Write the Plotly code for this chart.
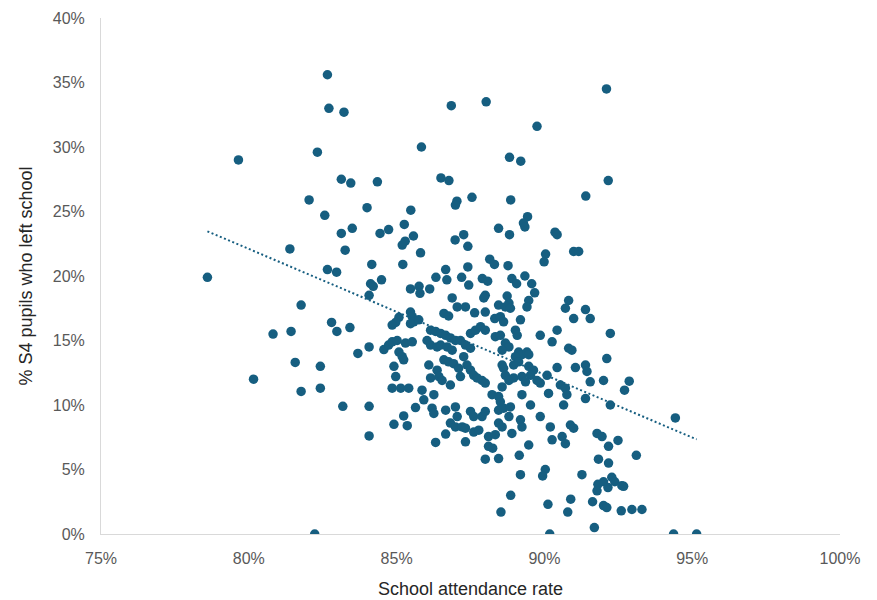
import numpy as np
import plotly.graph_objects as go

# School attendance rate (%) and share of S4 pupils who left school (%), one pair per school
attendance = [
    82.66, 82.71, 83.22, 82.32, 79.65, 83.13, 83.45, 84.35, 82.04, 84.0, 82.57, 83.13, 83.5, 84.44, 84.73,
    81.39, 83.26, 82.66, 82.97, 84.16, 84.49, 84.12, 84.21, 84.07, 78.6,
    81.77, 80.82, 81.43, 82.8, 82.98, 83.42, 84.07, 83.69, 84.57, 84.73, 81.57, 82.42, 80.16, 81.77, 82.42,
    83.18, 84.07, 84.07, 82.23,
    86.85, 88.03, 89.75, 85.84, 88.82, 89.2, 86.5, 86.77, 87.55, 87.04, 86.99, 88.86, 85.48, 85.26, 85.57,
    85.29, 85.19, 85.81, 85.21, 88.45, 88.82, 89.43, 89.29, 89.34, 90.36, 90.43, 87.27, 86.98, 87.41, 90.04,
    89.99, 87.41, 88.15, 88.31, 88.77, 89.34, 86.66, 86.7, 86.33, 87.2, 87.44, 87.9, 88.08, 88.9, 89.06,
    89.57, 85.47, 85.76, 86.12,
    92.1, 92.16, 91.4, 90.99, 91.16,
    85.79, 88.0, 87.95, 86.88, 87.05, 87.33, 86.6, 86.76, 87.64, 88.0, 88.32, 88.51, 88.62, 85.08, 84.97,
    84.85, 85.47, 85.53, 85.58, 85.47, 85.75, 86.15, 86.32, 86.49, 86.66, 86.82, 86.99, 86.03, 86.15, 86.37,
    86.49, 86.71, 86.88, 87.16, 87.33, 87.5, 87.5, 87.67, 87.84, 88.0, 88.34, 88.51, 84.85, 85.02, 85.3,
    85.53, 85.08, 85.19, 85.24, 84.91, 84.97, 86.09, 86.37, 86.6, 86.76, 86.93, 87.27, 87.38, 87.5, 87.61,
    87.72, 87.1, 87.16, 86.43, 86.54, 86.15, 86.82, 87.89, 88.0, 84.85, 85.14, 85.41, 85.86, 85.92, 86.26,
    85.64, 86.2, 86.26, 86.66, 86.99, 87.05, 87.5, 87.61, 87.89, 88.0, 84.91, 85.24, 85.36, 86.82, 86.99,
    87.22, 87.33, 86.66, 87.61, 87.78, 87.33, 86.32, 88.11, 88.34, 88.45, 88.57, 88.23, 88.45, 88.51, 88.45,
    88.62,
    89.67, 88.74, 89.47, 89.41, 88.45, 88.68, 88.8, 88.85, 89.19, 89.02, 89.08, 88.68, 88.8, 88.57, 89.13,
    89.24, 89.41, 89.47, 89.02, 89.13, 88.96, 88.57, 88.62, 89.47, 89.63, 89.53, 88.68, 88.8, 88.96, 89.24,
    89.36, 89.75, 89.86, 90.09, 88.57, 89.24, 88.85, 89.53, 88.8, 89.19, 89.24, 88.9, 89.47, 89.86, 90.2,
    90.26, 90.6, 90.71, 90.88, 90.99, 90.65, 90.14, 90.54, 90.71, 90.76, 90.43, 91.05, 91.39, 91.44, 91.55,
    92.0, 91.39, 92.23, 92.11, 92.23, 90.82, 90.93, 90.43, 90.26, 89.86, 90.82, 90.71, 90.99, 91.39, 91.55,
    91.78, 91.95, 92.17,
    88.11, 88.25, 88.0, 88.45, 89.15, 89.19, 90.03, 89.94, 88.86, 88.53, 90.12, 90.89, 90.79, 90.18, 91.27,
    91.83, 92.17, 91.81, 92.0, 91.78, 92.15, 92.28, 92.38, 92.62, 91.63, 92.0, 92.11, 92.6, 91.69,
    92.87, 92.71, 94.43, 92.49, 93.11, 92.68, 92.96, 93.3, 94.37, 95.15,
]
left_school = [
    35.6, 33.0, 32.7, 29.6, 29.0, 27.5, 27.2, 27.3, 25.9, 25.3, 24.7, 23.3, 23.7, 23.3, 23.6,
    22.1, 22.0, 20.5, 20.3, 20.9, 19.7, 19.4, 19.2, 18.5, 19.9,
    17.75, 15.5, 15.7, 16.4, 15.7, 16.0, 14.5, 14.0, 14.3, 14.65, 13.3, 13.0, 12.0, 11.05, 11.3,
    9.9, 9.9, 7.6, 0.0,
    33.2, 33.5, 31.6, 30.0, 29.2, 28.9, 27.6, 27.4, 26.1, 25.8, 25.5, 25.9, 25.1, 24.0, 23.1,
    22.7, 22.4, 21.8, 20.9, 23.7, 23.2, 24.6, 24.1, 23.8, 23.4, 23.2, 23.2, 22.8, 22.3, 21.7,
    21.1, 20.7, 21.3, 20.9, 20.8, 20.0, 20.5, 19.7, 19.9, 19.9, 19.3, 19.8, 19.6, 19.8, 19.4,
    19.4, 19.0, 19.2, 19.0,
    34.5, 27.4, 26.2, 21.9, 21.9,
    18.66, 18.5, 18.3, 18.3, 17.6, 17.6, 17.1, 16.9, 17.15, 17.2, 16.7, 16.85, 16.45, 16.8, 16.4,
    16.2, 17.2, 16.85, 16.45, 16.3, 16.6, 15.8, 15.7, 15.55, 15.4, 15.2, 15.0, 15.0, 14.65, 14.5,
    14.65, 14.5, 14.25, 15.0, 14.65, 14.4, 15.55, 15.8, 16.07, 15.8, 15.3, 15.4, 14.9, 15.0, 14.8,
    14.9, 14.1, 13.75, 13.5, 13.0, 12.2, 13.1, 12.7, 13.5, 13.35, 13.2, 13.75, 13.1, 12.7, 12.3,
    12.1, 12.85, 12.2, 12.2, 11.9, 12.1, 11.55, 11.9, 11.7, 11.3, 11.3, 11.3, 11.15, 10.4, 10.8,
    9.8, 9.75, 9.35, 9.6, 9.85, 9.1, 9.5, 9.1, 9.1, 9.5, 8.5, 9.15, 8.4, 8.6, 8.3,
    8.3, 8.2, 7.75, 7.9, 8.05, 7.15, 7.1, 7.55, 7.7, 8.6, 8.3, 10.8, 10.65, 10.25, 9.6,
    9.75,
    18.7, 18.45, 18.1, 17.6, 17.75, 17.6, 17.9, 17.5, 16.6, 15.8, 15.4, 14.8, 14.5, 14.25, 14.1,
    13.9, 14.1, 13.9, 13.75, 13.35, 13.1, 13.1, 12.85, 13.0, 12.7, 12.3, 12.3, 11.9, 12.1, 12.2,
    11.8, 11.9, 11.7, 12.3, 11.4, 10.8, 9.85, 10.0, 9.1, 8.85, 8.3, 7.8, 6.9, 9.1, 8.3,
    7.3, 7.55, 7.0, 8.45, 8.2, 10.0, 10.9, 11.55, 11.3, 10.8, 12.9, 12.9, 13.1, 12.6, 11.8,
    11.9, 10.5, 10.0, 13.6, 15.55, 14.4, 14.25, 15.8, 14.9, 15.4, 18.1, 17.5, 16.7, 17.4, 16.7,
    7.8, 7.55, 6.8,
    6.8, 6.65, 5.8, 5.85, 6.1, 4.6, 5.0, 4.5, 3.0, 1.7, 2.3, 2.7, 1.7, 0.0, 4.6,
    5.8, 5.5, 3.85, 4.05, 3.35, 3.6, 4.4, 4.05, 3.75, 2.5, 2.2, 2.05, 1.8, 0.5,
    11.85, 11.15, 9.0, 7.25, 6.1, 3.7, 1.9, 1.9, 0.0, 0.0,
]

x_ticks = [75, 80, 85, 90, 95, 100]
y_ticks = [0, 5, 10, 15, 20, 25, 30, 35, 40]

DOT = "#165E80"
FONT = "Arial, 'Liberation Sans', sans-serif"

x_arr = np.array(attendance)
y_arr = np.array(left_school)

# Linear trendline fitted to the points, drawn across the data's x span
slope, intercept = np.polyfit(x_arr, y_arr, 1)
trend_x = np.array([x_arr.min(), x_arr.max()])
trend_y = slope * trend_x + intercept

fig = go.Figure()
fig.add_trace(go.Scatter(
    x=attendance, y=left_school, mode="markers",
    marker=dict(color=DOT, size=9.5, line=dict(width=0)),
    hoverinfo="x+y", showlegend=False,
))
fig.add_trace(go.Scatter(
    x=trend_x, y=trend_y, mode="lines",
    line=dict(color=DOT, width=2, dash="2px,2.5px"),
    hoverinfo="skip", showlegend=False,
))

fig.update_layout(
    width=877, height=600,
    margin=dict(l=101, r=37, t=18, b=66),
    paper_bgcolor="white", plot_bgcolor="white",
    font=dict(family=FONT, color="#595959", size=16),
    xaxis=dict(
        range=[75, 100], tickvals=x_ticks, ticktext=[f"{v}%" for v in x_ticks],
        showgrid=False, zeroline=False, showline=True, linecolor="#D9D9D9", linewidth=1,
        ticks="", ticklabelstandoff=10, automargin=False,
        title=dict(text="School attendance rate", font=dict(size=18, color="#262626"), standoff=16),
    ),
    yaxis=dict(
        range=[0, 40], tickvals=y_ticks, ticktext=[f"{v}%" for v in y_ticks],
        showgrid=False, zeroline=False, showline=True, linecolor="#D9D9D9", linewidth=1,
        ticks="", ticklabelstandoff=12, automargin=False,
        title=dict(text="% S4 pupils who left school", font=dict(size=18, color="#262626"), standoff=15),
    ),
)

fig.write_html("out.html")
